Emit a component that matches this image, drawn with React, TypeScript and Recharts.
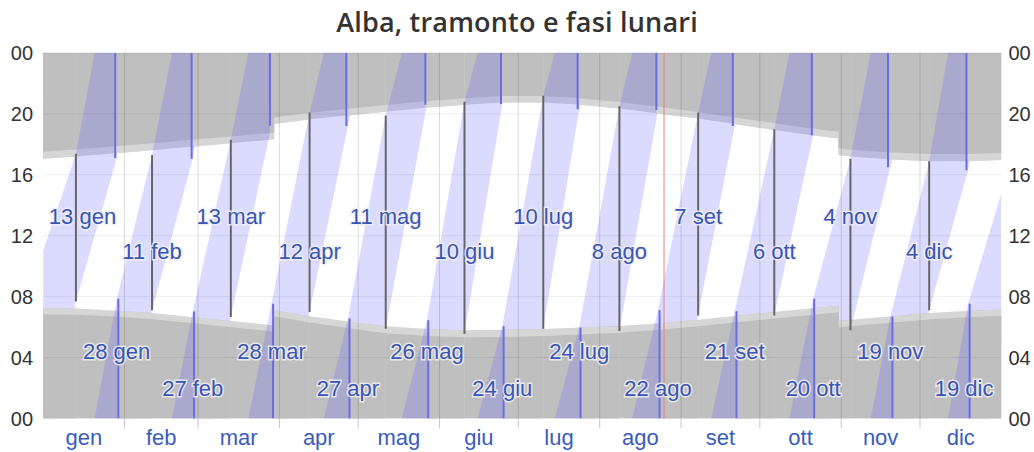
import React from 'react';
import { ComposedChart, Area, Line, XAxis, YAxis, ReferenceLine, Scatter } from 'recharts';

const W = 1034;
const H = 452;

const monthStarts = [31, 59, 90, 120, 151, 181, 212, 243, 273, 304, 334];
const monthMid = [15.5, 45, 74.5, 105, 135.5, 166, 196.5, 227.5, 258, 288.5, 319, 349.5];
const monthNames = ['gen', 'feb', 'mar', 'apr', 'mag', 'giu', 'lug', 'ago', 'set', 'ott', 'nov', 'dic'];
const hourTicks = [0, 4, 8, 12, 16, 20, 24];

// evening: sunset (twilight band start) and dusk (night start), clock hours
const eveningDays = [0, 12.5, 27.47, 41.5, 56.57, 71.5, 86.4, 88, 88, 101.5, 115.5, 130.5, 145.6, 160.5, 174.4, 190.5, 203.6, 219.5, 233.6, 249.5, 262.7, 278.5, 292.8, 303, 303, 307.5, 321.8, 337.5, 351.7, 365];
const sunsetH = [17.05, 17.2, 17.42, 17.62, 17.85, 18.08, 18.3, 18.33, 19.33, 19.65, 19.9, 20.15, 20.4, 20.6, 20.75, 20.75, 20.62, 20.35, 20.05, 19.7, 19.35, 18.95, 18.6, 18.38, 17.3, 17.2, 17.02, 16.9, 16.9, 16.97];
const duskH = [17.52, 17.66, 17.87, 18.07, 18.3, 18.52, 18.74, 18.77, 19.77, 20.08, 20.33, 20.58, 20.83, 21.03, 21.18, 21.18, 21.05, 20.78, 20.48, 20.13, 19.78, 19.39, 19.05, 18.83, 17.75, 17.65, 17.48, 17.36, 17.36, 17.43];

// morning: dawn (night end) and sunrise (twilight band end), clock hours
const morningDays = [0, 12.5, 28.65, 41.5, 57.5, 71.5, 87.6, 88, 88, 101.5, 116.7, 130.5, 146.7, 160.5, 175.4, 190.5, 204.7, 219.5, 234.8, 249.5, 264.1, 278.5, 293.7, 303, 303, 307.5, 323.5, 337.5, 352.9, 365];
const sunriseH = [7.25, 7.22, 7.08, 6.92, 6.65, 6.4, 6.12, 6.11, 7.11, 6.72, 6.35, 6.05, 5.88, 5.8, 5.82, 5.88, 5.97, 6.07, 6.25, 6.48, 6.75, 7.0, 7.25, 7.4, 6.4, 6.48, 6.72, 6.92, 7.08, 7.15];
const dawnH = [6.85, 6.82, 6.68, 6.52, 6.25, 6.0, 5.72, 5.71, 6.71, 6.3, 5.92, 5.6, 5.42, 5.33, 5.35, 5.42, 5.52, 5.63, 5.82, 6.05, 6.32, 6.57, 6.82, 6.97, 5.97, 6.05, 6.3, 6.5, 6.66, 6.73];

// moon visibility: moonrise and moonset clock hours at key days (new / full moons)
const moonDays = [0, 12.5, 28.1, 41.5, 57.0, 71.5, 87.0, 101.5, 116.1, 130.5, 146.2, 160.5, 174.9, 190.5, 204.2, 219.5, 234.2, 249.5, 263.4, 278.5, 293.3, 307.5, 322.7, 337.5, 352.3, 365];
const moonRiseH = [21.0, 7.69, 17.11, 7.1, 17.05, 6.66, 19.23, 6.99, 19.2, 5.9, 20.6, 5.57, 20.65, 5.9, 20.3, 5.75, 20.26, 6.77, 19.2, 6.77, 18.6, 5.8, 16.5, 7.1, 16.3, 5.0];
const moonSetH = [11.0, 17.38, 7.87, 17.3, 7.03, 18.3, 7.54, 20.1, 6.56, 19.9, 6.45, 20.8, 6.05, 21.2, 5.97, 20.5, 7.1, 20.1, 7.04, 19.0, 7.87, 17.05, 6.7, 16.9, 7.54, 14.8];

// new moons (dark lines: moon above horizon during the day)
const newMoonDays = [12.5, 41.5, 71.5, 101.5, 130.5, 160.5, 190.5, 219.5, 249.5, 278.5, 307.5, 337.5];
const newMoonRise = [7.69, 7.1, 6.66, 6.99, 5.9, 5.57, 5.9, 5.75, 6.77, 6.77, 5.8, 7.1];
const newMoonSet = [17.38, 17.3, 18.3, 20.1, 19.9, 20.8, 21.2, 20.5, 20.1, 19.0, 17.05, 16.9];
const newMoonLabels = ['13 gen', '11 feb', '13 mar', '12 apr', '11 mag', '10 giu', '10 lug', '8 ago', '7 set', '6 ott', '4 nov', '4 dic'];
const newMoonLabelDays = [15.0, 41.5, 71.5, 101.5, 130.5, 160.5, 190.5, 219.5, 249.5, 278.5, 307.5, 337.5];
const newMoonLabelH = [13.25, 10.95, 13.25, 10.95, 13.25, 10.95, 13.25, 10.95, 13.25, 10.95, 13.25, 10.95];

// full moons (blue lines: moon above horizon during the night)
const fullMoonBottomDays = [28.65, 57.5, 87.6, 116.7, 146.7, 175.4, 204.7, 234.8, 264.1, 293.7, 323.5, 352.9];
const fullMoonTopDays = [27.47, 56.57, 86.4, 115.5, 145.6, 174.4, 203.6, 233.6, 262.7, 292.8, 321.8, 351.7];
const fullMoonSet = [7.87, 7.03, 7.54, 6.56, 6.45, 6.05, 5.97, 7.1, 7.04, 7.87, 6.7, 7.54];
const fullMoonRise = [17.11, 17.05, 19.23, 19.2, 20.6, 20.65, 20.3, 20.26, 19.2, 18.6, 16.5, 16.3];
const fullMoonLabels = ['28 gen', '27 feb', '28 mar', '27 apr', '26 mag', '24 giu', '24 lug', '22 ago', '21 set', '20 ott', '19 nov', '19 dic'];
const fullMoonLabelDays = [28.0, 57.0, 87.0, 116.1, 146.2, 174.9, 204.2, 234.2, 263.4, 293.3, 322.7, 350.8];
const fullMoonLabelH = [4.37, 2.0, 4.37, 2.0, 4.37, 2.0, 4.37, 2.0, 4.37, 2.0, 4.37, 2.0];

const todayDay = 236.5;

// ---- tables built from the arrays ----
const eveningData = eveningDays.map((d, i) => ({ x: d, twi: [sunsetH[i], 24], night: [duskH[i], 24] }));
const morningData = morningDays.map((d, i) => ({ x: d, twi: [0, sunriseH[i]], night: [0, dawnH[i]] }));

// waning phase (full moon -> next new moon): the night part of the moon band is not shown
const eveStarts = [0, ...fullMoonTopDays];
const mornStarts = [0, ...fullMoonBottomDays];
const phaseEnds = [...newMoonDays, 365];
const eveningCovers = eveStarts.map((a, i) => eveningData.filter((p) => p.x >= a && p.x <= phaseEnds[i]));
const morningCovers = mornStarts.map((a, i) => morningData.filter((p) => p.x >= a && p.x <= phaseEnds[i]));

const setU: number[] = [];
{
  let off = 0;
  moonSetH.forEach((h, i) => {
    if (i > 0 && h + off < setU[i - 1]) off += 24;
    setU.push(h + off);
  });
}
const riseU = moonRiseH.map((h, i) => h + 24 * Math.floor((setU[i] - h) / 24));
const bandShifts: number[] = [];
for (let k = -1; k <= 13; k++) bandShifts.push(k);
const bandTables = bandShifts.map((k) =>
  moonDays.map((d, i) => ({ x: d, band: [riseU[i] - 24 * k, setU[i] - 24 * k] }))
);

const newLineData: { x: number; y: number | null }[] = [];
newMoonDays.forEach((d, i) => {
  newLineData.push({ x: d, y: newMoonRise[i] }, { x: d, y: newMoonSet[i] }, { x: d, y: null });
});
const fullLineData: { x: number; y: number | null }[] = [];
fullMoonBottomDays.forEach((d, i) => {
  fullLineData.push({ x: d, y: 0 }, { x: d, y: fullMoonSet[i] }, { x: d, y: null });
  fullLineData.push({ x: fullMoonTopDays[i], y: fullMoonRise[i] }, { x: fullMoonTopDays[i], y: 24 }, { x: fullMoonTopDays[i], y: null });
});

const newLabelData = newMoonLabels.map((t, i) => ({ x: newMoonLabelDays[i], y: newMoonLabelH[i], t }));
const fullLabelData = fullMoonLabels.map((t, i) => ({ x: fullMoonLabelDays[i], y: fullMoonLabelH[i], t }));

const LABEL_FONT = '"Liberation Sans", Arial, sans-serif';
const TWI = '#d6d6d6';
const NIGHT = '#bfbfbf';

const LabelShape = (props: any) => {
  const { cx, cy, payload } = props;
  return (
    <text
      x={cx}
      y={cy}
      textAnchor="middle"
      dominantBaseline="central"
      fontFamily={LABEL_FONT}
      fontSize={22}
      fill="#3a55b4"
      stroke="#f0f0f0"
      strokeWidth={3}
      strokeOpacity={0.85}
      paintOrder="stroke"
    >
      {payload.t}
    </text>
  );
};

const MonthLabel = (props: any) => {
  const vb = props.viewBox || {};
  const x = (vb.x || 0) + (vb.width || 0) / 2;
  const y = (vb.y || 0) + (vb.height || 0);
  return (
    <text x={x} y={y + 19} textAnchor="middle" dominantBaseline="central" fontFamily={LABEL_FONT} fontSize={22} fill="#3a5cbc">
      {props.value}
    </text>
  );
};

const hourFmt = (v: number) => String(v % 24).padStart(2, '0');

const gray = (data: any[], key: string, fill: string, id: string) => (
  <Area key={id} xAxisId="g" yAxisId="l" data={data} dataKey={key} type="linear" stroke="none" fill={fill} fillOpacity={1} isAnimationActive={false} />
);

export default function App() {
  return (
    <div style={{ position: 'absolute', left: 0, top: 0, width: W, height: H, background: '#fff' }}>
      <div
        style={{
          position: 'absolute',
          left: 0,
          top: 4,
          width: W,
          textAlign: 'center',
          fontFamily: '"Open Sans", "Noto Sans", sans-serif',
          fontSize: 27,
          fontWeight: 600,
          color: '#333',
          lineHeight: '36px',
          letterSpacing: 0.2,
        }}
      >
        Alba, tramonto e fasi lunari
      </div>
      <ComposedChart
        width={W}
        height={H}
        margin={{ top: 53, right: 2.6, bottom: 33.5, left: 3.1 }}
        style={{ position: 'absolute', left: 0, top: 0 }}
      >
        <XAxis xAxisId="g" type="number" dataKey="x" domain={[0, 365]} ticks={monthStarts} hide allowDataOverflow height={0} />
        <YAxis
          yAxisId="l"
          type="number"
          domain={[0, 24]}
          ticks={hourTicks}
          tickFormatter={hourFmt}
          tick={{ fill: '#333', fontSize: 20, fontFamily: LABEL_FONT }}
          tickLine={false}
          axisLine={false}
          tickSize={8}
          tickMargin={2}
          width={40}
          allowDataOverflow
          interval={0}
        />
        <YAxis
          yAxisId="r"
          orientation="right"
          type="number"
          domain={[0, 24]}
          ticks={hourTicks}
          tickFormatter={hourFmt}
          tick={{ fill: '#333', fontSize: 20, fontFamily: LABEL_FONT }}
          tickLine={false}
          axisLine={false}
          tickSize={5}
          tickMargin={2}
          width={30}
          allowDataOverflow
          interval={0}
        />

        {gray(eveningData, 'twi', TWI, 'et')}
        {gray(eveningData, 'night', NIGHT, 'en')}
        {gray(morningData, 'twi', TWI, 'mt')}
        {gray(morningData, 'night', NIGHT, 'mn')}

        {bandTables.map((tbl, i) => (
          <Area
            key={'b' + i}
            xAxisId="g"
            yAxisId="l"
            data={tbl}
            dataKey="band"
            type="linear"
            stroke="none"
            fill="#5a5aff"
            fillOpacity={0.22}
            isAnimationActive={false}
          />
        ))}

        {eveningCovers.map((c, i) => gray(c, 'twi', TWI, 'ct' + i))}
        {eveningCovers.map((c, i) => gray(c, 'night', NIGHT, 'cn' + i))}
        {morningCovers.map((c, i) => gray(c, 'twi', TWI, 'mt' + i))}
        {morningCovers.map((c, i) => gray(c, 'night', NIGHT, 'mn' + i))}

        {monthStarts.map((d) => (
          <ReferenceLine key={'v' + d} xAxisId="g" yAxisId="l" x={d} stroke="#000" strokeOpacity={0.14} />
        ))}
        {monthStarts.map((d) => (
          <ReferenceLine
            key={'t' + d}
            xAxisId="g"
            yAxisId="l"
            segment={[{ x: d, y: 0 }, { x: d, y: -0.65 }]}
            ifOverflow="visible"
            stroke="#c8c8c8"
          />
        ))}
        {monthMid.map((d, i) => (
          <ReferenceLine key={'m' + d} xAxisId="g" yAxisId="l" x={d} stroke="none" label={<MonthLabel value={monthNames[i]} />} />
        ))}
        {[4, 8, 12, 16, 20].map((h) => (
          <ReferenceLine key={'h' + h} xAxisId="g" yAxisId="l" y={h} stroke="#000" strokeOpacity={0.07} />
        ))}
        <ReferenceLine xAxisId="g" yAxisId="l" y={24} stroke="#000" strokeOpacity={0.1} />

        <Line xAxisId="g" yAxisId="l" data={newLineData} dataKey="y" stroke="#666" strokeWidth={2} dot={false} connectNulls={false} isAnimationActive={false} />
        <Line xAxisId="g" yAxisId="l" data={fullLineData} dataKey="y" stroke="#6b6be6" strokeWidth={2} dot={false} connectNulls={false} isAnimationActive={false} />
        <ReferenceLine xAxisId="g" yAxisId="l" x={todayDay} stroke="#e88080" strokeWidth={1} />

        <Scatter xAxisId="g" yAxisId="l" data={newLabelData} dataKey="y" shape={LabelShape} isAnimationActive={false} />
        <Scatter xAxisId="g" yAxisId="l" data={fullLabelData} dataKey="y" shape={LabelShape} isAnimationActive={false} />
      </ComposedChart>
    </div>
  );
}
